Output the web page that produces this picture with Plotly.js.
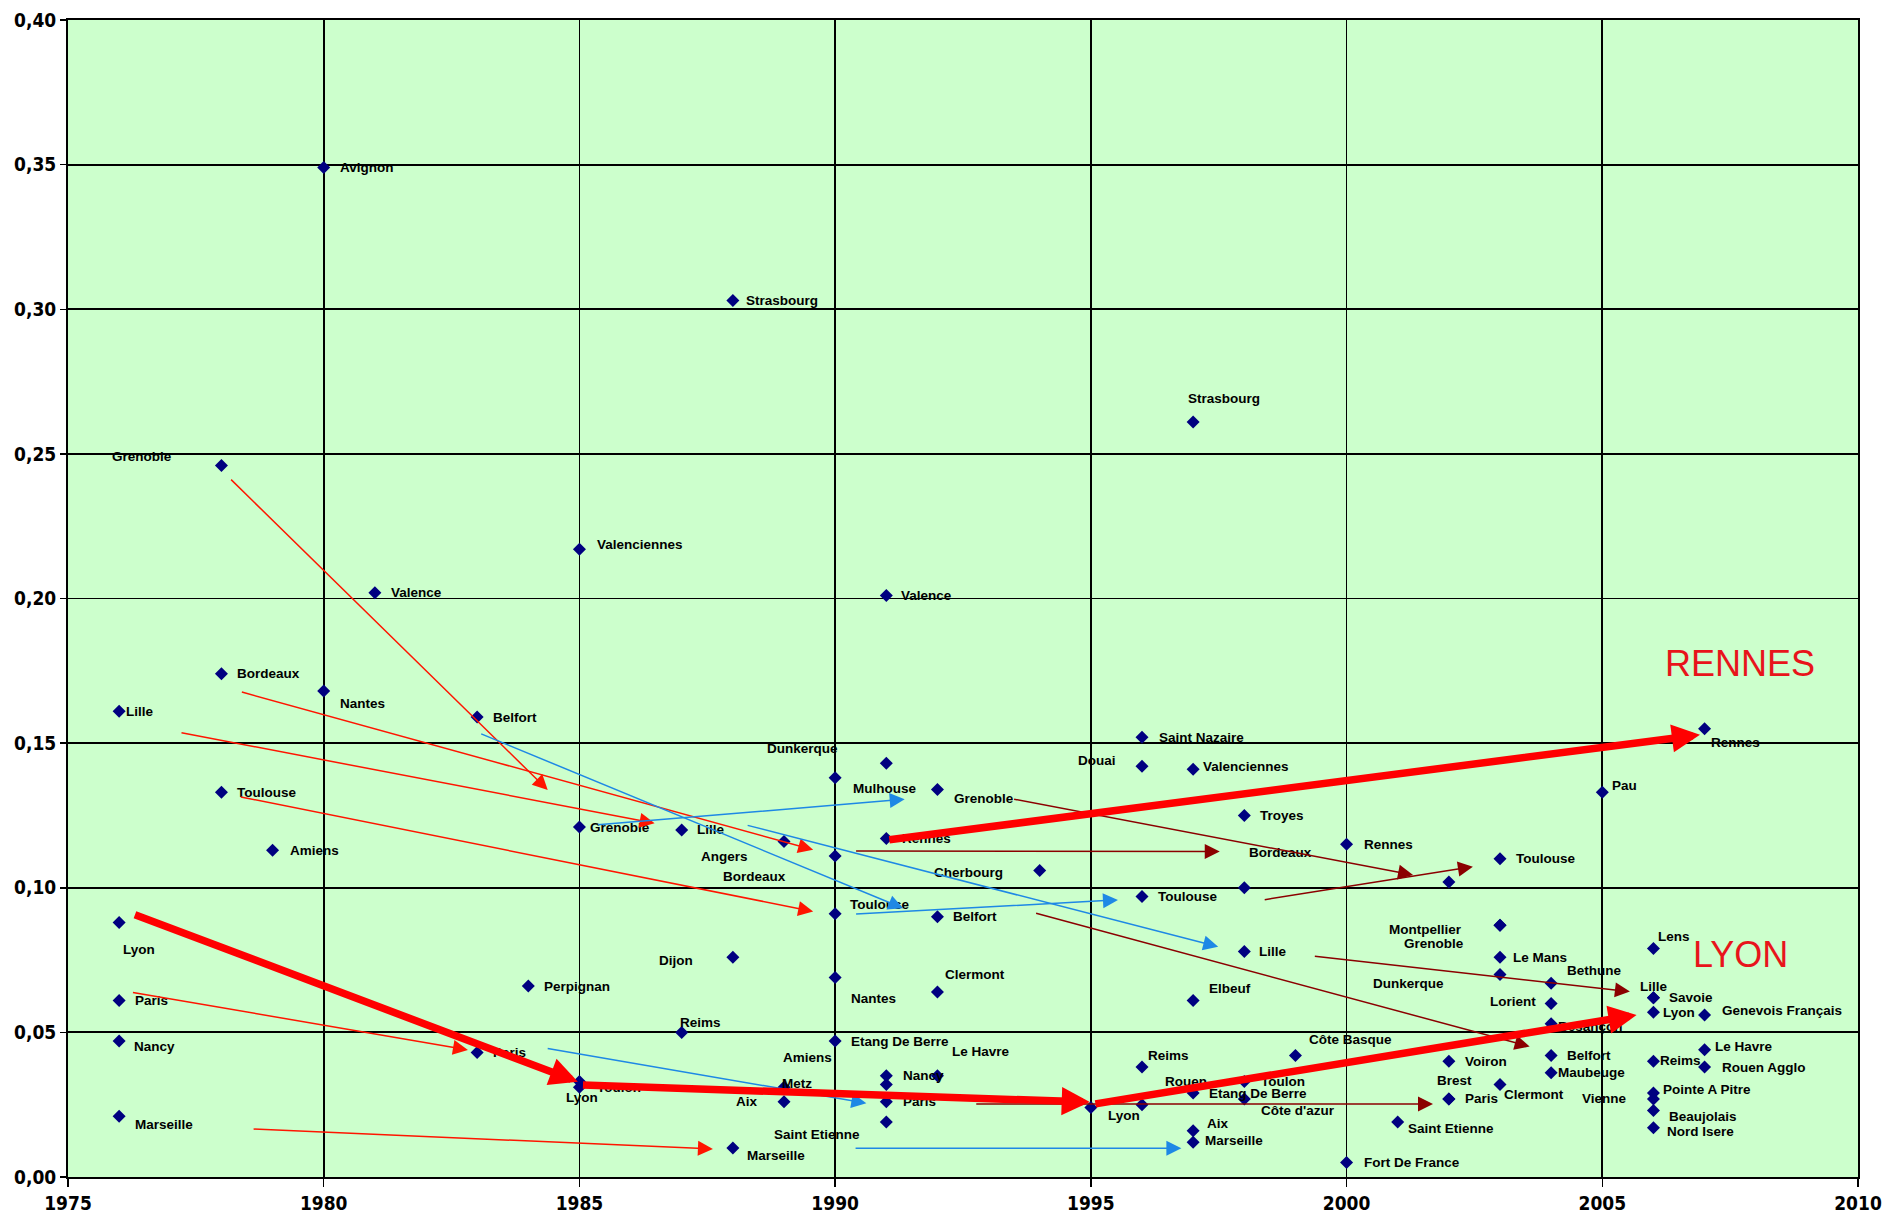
<!DOCTYPE html>
<html><head><meta charset="utf-8">
<script src="https://cdn.plot.ly/plotly-3.0.1.min.js"></script>
<style>html,body{margin:0;padding:0;background:#fff;}#chart{width:1883px;height:1223px;}</style>
</head><body><div id="chart"></div>
<script>
// ---- data ----
const cityNames = ["Lille","Lyon","Paris","Nancy","Marseille","Grenoble","Bordeaux","Toulouse","Amiens","Avignon",
"Nantes","Valence","Belfort","Paris","Perpignan","Valenciennes","Grenoble","Toulon","Lyon","Lille",
"Reims","Strasbourg","Dijon","Marseille","Angers","Aix","Metz","Dunkerque","Bordeaux","Toulouse",
"Nantes","Etang De Berre","Valence","Mulhouse","Rennes","Nancy","Amiens","Paris","Saint Etienne","Grenoble",
"Belfort","Clermont","Le Havre","Cherbourg","Lyon","Saint Nazaire","Douai","Toulouse","Reims","Rouen",
"Strasbourg","Valenciennes","Elbeuf","Etang De Berre","Aix","Marseille","Troyes","Bordeaux","Lille","Toulon",
"Côte d'azur","Côte Basque","Rennes","Fort De France","Saint Etienne","Grenoble","Voiron","Paris","Brest","Montpellier",
"Grenoble","Le Mans","Dunkerque","Toulouse","Clermont","Bethune","Lorient","Besançon","Belfort","Maubeuge",
"Pau","Lens","Lille","Savoie","Lyon","Reims","Pointe A Pitre","Vienne","Beaujolais","Nord Isere",
"Genevois Français","Le Havre","Rouen Agglo","Rennes"];
const cityYears = [1976,1976,1976,1976,1976,1978,1978,1978,1979,1980,
1980,1981,1983,1983,1984,1985,1985,1985,1985,1987,
1987,1988,1988,1988,1989,1989,1989,1990,1990,1990,
1990,1990,1991,1991,1991,1991,1991,1991,1991,1992,
1992,1992,1992,1994,1995,1996,1996,1996,1996,1996,
1997,1997,1997,1997,1997,1997,1998,1998,1998,1998,
1998,1999,2000,2000,2001,2002,2002,2002,2002,2003,
2003,2003,2003,2003,2003,2004,2004,2004,2004,2004,
2005,2006,2006,2006,2006,2006,2006,2006,2006,2006,
2007,2007,2007,2007];
const cityValues = [0.161,0.088,0.061,0.047,0.021,0.246,0.174,0.133,0.113,0.349,
0.168,0.202,0.159,0.043,0.066,0.217,0.121,0.033,0.031,0.120,
0.050,0.303,0.076,0.010,0.116,0.026,0.031,0.138,0.111,0.091,
0.069,0.047,0.201,0.143,0.117,0.035,0.032,0.026,0.019,0.134,
0.090,0.064,0.035,0.106,0.024,0.152,0.142,0.097,0.038,0.025,
0.261,0.141,0.061,0.029,0.016,0.012,0.125,0.100,0.078,0.033,
0.027,0.042,0.115,0.005,0.019,0.102,0.040,0.027,0.027,0.087,
0.087,0.076,0.070,0.110,0.032,0.067,0.060,0.053,0.042,0.036,
0.133,0.079,0.062,0.062,0.057,0.040,0.029,0.027,0.023,0.017,
0.056,0.044,0.038,0.155];

// trend arrows: start year/value -> end year/value, and kind
const arrowFromYear  = [1978.16,1978.37,1977.19,1978.35,1976.24,1978.60, 1983.05,1985.33,1988.26,1990.38,1984.35,1990.37, 1990.38,1993.47,1998.37,1999.35,1993.90,1992.73, 1976.28,1985.04,1995.06,1991.03];
const arrowFromValue = [0.2416,0.1678,0.1537,0.1315,0.0639,0.0166, 0.1534,0.1217,0.1217,0.0909,0.0445,0.0099, 0.1127,0.1307,0.0958,0.0764,0.0913,0.0252, 0.0909,0.0318,0.0252,0.1165];
const arrowToYear    = [1984.38,1989.57,1986.47,1989.57,1982.82,1987.61, 1991.33,1991.36,1997.49,1995.53,1990.61,1996.77, 1997.52,2001.30,2002.47,2005.54,2003.58,2001.69, 1984.97,1994.98,2005.67,2006.91];
const arrowToValue   = [0.1338,0.1131,0.1223,0.0918,0.0439,0.0097, 0.0929,0.1306,0.0796,0.0958,0.0255,0.0099, 0.1125,0.1044,0.1073,0.0641,0.0451,0.0252, 0.0329,0.0259,0.0560,0.1529];
const arrowKind      = ["red","red","red","red","red","red", "blue","blue","blue","blue","blue","blue", "maroon","maroon","maroon","maroon","maroon","maroon", "thick","thick","thick","thick"];

// highlighted city names
const highlightText  = ["RENNES","LYON"];
const highlightYear  = [2007.69,2007.71];
const highlightValue = [0.1774,0.0768];

// ---- label placement (anchor, pixel dx, pixel dy) — styling only ----
const labelPlacement = [
['l',5,0],['l',2,27],['l',14,0],['l',13,5],['l',14,8],['r',-47,-9],['l',14,0],['l',14,0],['l',15,0],['l',14,0],
['l',14,12],['l',14,0],['l',14,0],['l',14,0],['l',14,0],['l',16,-5],['l',9,0],['l',16,6],['c',3,10],['l',13,0],
['l',-4,-10],['l',11,0],['r',-38,3],['l',12,7],['r',-34,15],['r',-24,0],['l',-4,-4],['r',5,-29],['r',-47,21],['l',13,-9],
['l',14,21],['l',14,0],['l',13,0],['c',-2,25],['l',14,0],['l',15,0],['r',-52,-27],['l',15,0],['r',-24,12],['l',15,9],
['l',14,0],['l',6,-17],['l',13,-24],['r',-35,2],['l',15,8],['l',15,0],['r',-24,-6],['l',14,0],['l',4,-12],['l',21,-23],
['l',-7,-24],['l',8,-3],['l',14,-12],['l',14,0],['l',12,-7],['l',10,-2],['l',14,0],['l',3,-35],['l',13,0],['l',15,0],
['l',15,12],['l',12,-16],['l',15,0],['l',15,0],['l',8,6],null,['l',14,0],['l',14,0],['c',6,-18],['r',-36,4],
['r',-34,18],['l',11,0],['r',-54,9],['l',14,0],['l',2,10],['l',14,-13],['r',-13,-2],['l',5,3],['l',14,0],['l',5,0],
['l',8,-7],['l',3,-12],['c',0,-11],['l',14,0],['l',8,0],['l',5,-1],['l',8,-4],['r',-24,0],['l',14,6],['l',12,4],
['l',15,-5],['l',8,-3],['l',15,0],['l',4,14]];

const arrowStyle = {
  red:    {color:'#FF1500', width:1.5, size:2},
  blue:   {color:'#1E88E5', width:1.5, size:2},
  maroon: {color:'#8B0000', width:1.5, size:2},
  thick:  {color:'#FF0000', width:7.5, size:0.75}
};

const annotations = [];
const anchorMap = {l:'left', r:'right', c:'center'};
cityNames.forEach((name, i) => {
  const p = labelPlacement[i];
  if (!p) return;
  annotations.push({
    x: cityYears[i], y: cityValues[i], xref:'x', yref:'y',
    text: '<b>' + name + '</b>', showarrow:false,
    xanchor: anchorMap[p[0]], yanchor:'middle',
    xshift: p[1], yshift: -p[2],
    font: {family:'Liberation Sans, Arial, sans-serif', size:13.5, color:'#000'}
  });
});
arrowKind.forEach((k, i) => {
  const s = arrowStyle[k];
  annotations.push({
    x: arrowToYear[i], y: arrowToValue[i], xref:'x', yref:'y',
    ax: arrowFromYear[i], ay: arrowFromValue[i], axref:'x', ayref:'y',
    text:'', showarrow:true, arrowhead:2, arrowsize:s.size, arrowwidth:s.width,
    arrowcolor:s.color, standoff:0, startstandoff:0
  });
});
highlightText.forEach((t, i) => {
  annotations.push({
    x: highlightYear[i], y: highlightValue[i], xref:'x', yref:'y',
    text: t, showarrow:false, xanchor:'center', yanchor:'middle',
    font:{family:'Liberation Sans, Arial, sans-serif', size:36, color:'#E8141B'}
  });
});

const trace = {
  type:'scatter', mode:'markers',
  x: cityYears, y: cityValues, text: cityNames,
  marker:{symbol:'diamond', size:10, color:'#000080'},
  hoverinfo:'text+x+y'
};

const tickFont = {family:'Liberation Sans Narrow, Arial Narrow, DejaVu Sans Condensed, sans-serif', size:19, color:'#000', weight:'bold'};
const layout = {
  width:1883, height:1223,
  margin:{l:68, r:25, t:20, b:46, pad:0},
  paper_bgcolor:'#ffffff', plot_bgcolor:'#CCFFCC',
  separators:', ',
  showlegend:false,
  xaxis:{range:[1975,2010], tick0:1975, dtick:5, showgrid:true, gridcolor:'#000', gridwidth:1.8,
         showline:true, linecolor:'#000', linewidth:2, mirror:true, zeroline:false,
         ticks:'outside', ticklen:8, tickwidth:1.5, tickcolor:'#000', tickfont:tickFont,
         ticklabeloverflow:'allow'},
  yaxis:{range:[0,0.4], tick0:0, dtick:0.05, tickformat:'.2f', showgrid:true, gridcolor:'#000', gridwidth:1.8,
         showline:true, linecolor:'#000', linewidth:2, mirror:true, zeroline:false,
         ticks:'outside', ticklen:6, tickwidth:1.5, tickcolor:'#000', tickfont:tickFont,
         ticklabeloverflow:'allow'},
  annotations: annotations
};
Plotly.newPlot('chart', [trace], layout, {displayModeBar:false, staticPlot:true});
</script></body></html>
